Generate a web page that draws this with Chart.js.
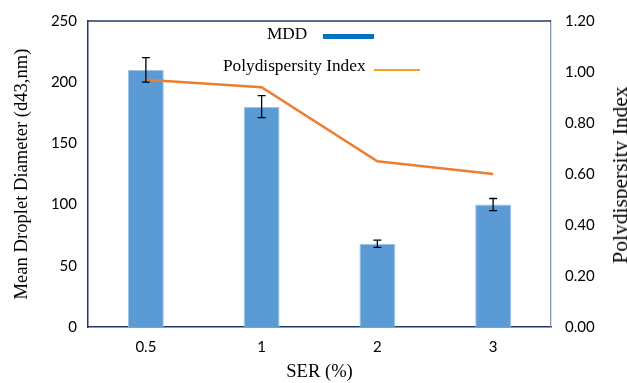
<!DOCTYPE html>
<html>
<head>
<meta charset="utf-8">
<script src="https://cdn.jsdelivr.net/npm/chart.js@4/dist/chart.umd.min.js"></script>
<style>
  html, body { margin: 0; padding: 0; background: #fff; }
  #wrap { position: relative; width: 627px; height: 383px; overflow: hidden; }
  canvas { display: block; }
  .lbl { position: absolute; font-family: "Liberation Serif", "Times New Roman", serif; font-size: 17.3px; line-height: 20px; color: #000; white-space: nowrap; }
  .sw { position: absolute; }
</style>
</head>
<body>
<div id="wrap">
  <canvas id="c" width="627" height="383"></canvas>
  <div class="lbl" style="left:267px; top:24px;">MDD</div>
  <div class="sw" style="left:323px; top:34px; width:51px; height:5px; background:#0070C0;"></div>
  <div class="lbl" style="left:223px; top:56px;">Polydispersity Index</div>
  <div class="sw" style="left:374px; top:69px; width:46px; height:2px; background:#F5A11C;"></div>
  <div class="lbl" id="rt" style="left:620px; top:175px; font-size:21.5px; line-height:24px; transform: translate(-50%,-50%) rotate(-90deg);">Polydispersity Index</div>
</div>
<script>
const categories = ["0.5", "1", "2", "3"];
const mddValues = [210, 180, 68, 100];
const mddErrors = [10, 9, 3, 5];
const pdiValues = [0.97, 0.94, 0.65, 0.60];
const leftTicks = [0, 50, 100, 150, 200, 250];
const rightTicks = [0, 0.2, 0.4, 0.6, 0.8, 1.0, 1.2];

const errorBars = {
  id: 'errorBars',
  afterDatasetsDraw(chart) {
    const ctx = chart.ctx;
    const meta = chart.getDatasetMeta(1);
    const y = chart.scales.y;
    ctx.save();
    ctx.strokeStyle = '#000';
    ctx.lineWidth = 1.3;
    meta.data.forEach((bar, i) => {
      const x = bar.x;
      const top = y.getPixelForValue(mddValues[i] + mddErrors[i]);
      const bot = y.getPixelForValue(mddValues[i] - mddErrors[i]);
      ctx.beginPath();
      ctx.moveTo(x, top); ctx.lineTo(x, bot);
      ctx.moveTo(x - 4, top); ctx.lineTo(x + 4, top);
      ctx.moveTo(x - 4, bot); ctx.lineTo(x + 4, bot);
      ctx.stroke();
    });
    ctx.restore();
  }
};

const frame = {
  id: 'frame',
  afterDraw(chart) {
    const a = chart.chartArea, ctx = chart.ctx;
    ctx.save();
    ctx.strokeStyle = '#1F3864';
    ctx.lineWidth = 1.3;
    ctx.beginPath();
    ctx.moveTo(a.left, a.top); ctx.lineTo(a.right, a.top);
    ctx.stroke();
    ctx.restore();
  }
};

const tickFont = { family: 'Lato, "Open Sans", sans-serif', size: 15 };
const titleFont = { family: '"Liberation Serif", "Times New Roman", serif', size: 18.6 };

new Chart(document.getElementById('c'), {
  data: {
    labels: categories,
    datasets: [
      {
        type: 'line', label: 'Polydispersity Index', data: pdiValues, yAxisID: 'y1',
        borderColor: '#ED7D31', borderWidth: 2.5, pointRadius: 0, tension: 0, order: 0
      },
      {
        type: 'bar', label: 'MDD', data: mddValues, yAxisID: 'y',
        backgroundColor: '#5B9BD5', borderColor: '#9DC3E6', borderWidth: 1,
        barPercentage: 0.31, categoryPercentage: 1, order: 1
      }
    ]
  },
  options: {
    responsive: false, animation: false,
    layout: { padding: { top: 21, left: 0, right: 0, bottom: 0 } },
    plugins: { legend: { display: false }, tooltip: { enabled: false } },
    scales: {
      x: {
        grid: { display: false, drawTicks: false },
        border: { color: '#1F3864', width: 1.5 },
        ticks: { color: '#000', font: tickFont, padding: 11 },
        title: { display: true, text: 'SER (%)', color: '#000', font: titleFont, padding: { top: 4, bottom: 0 } },
        afterFit(s) { s.height = 56; }
      },
      y: {
        position: 'left', min: 0, max: 250,
        afterBuildTicks(s) { s.ticks = leftTicks.map(v => ({ value: v })); },
        grid: { display: false, drawTicks: false },
        border: { color: '#1F3864', width: 1.5 },
        ticks: { color: '#000', font: tickFont, padding: 11 },
        title: { display: true, text: 'Mean Droplet Diameter (d43,nm)', color: '#000', font: titleFont, padding: { top: 11, bottom: 0 } },
        afterFit(s) { s.width = 88; }
      },
      y1: {
        position: 'right', min: 0, max: 1.2,
        afterBuildTicks(s) { s.ticks = rightTicks.map(v => ({ value: v })); },
        grid: { display: false, drawOnChartArea: false, drawTicks: true, tickLength: 5, color: '#8497B0' },
        border: { color: '#8497B0', width: 1.3 },
        ticks: { color: '#000', font: tickFont, padding: 9, callback: v => Number(v).toFixed(2) },
        afterFit(s) { s.width = 76; }
      }
    }
  },
  plugins: [errorBars, frame]
});
</script>
</body>
</html>
